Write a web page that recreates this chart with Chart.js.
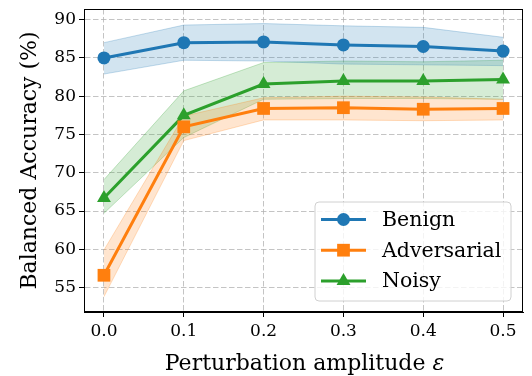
<!DOCTYPE html>
<html>
<head>
<meta charset="utf-8">
<script src="https://cdn.jsdelivr.net/npm/chart.js@4.4.1/dist/chart.umd.min.js"></script>
<style>
html,body{margin:0;padding:0;background:#fff;}
#wrap{width:532px;height:376px;position:relative;}
</style>
</head>
<body>
<div id="wrap"><canvas id="c" width="532" height="376"></canvas></div>
<script>
// ---- data ----
const epsilons = [0.0, 0.1, 0.2, 0.3, 0.4, 0.5];
const xTicks = [0.0, 0.1, 0.2, 0.3, 0.4, 0.5];
const yTicks = [55, 60, 65, 70, 75, 80, 85, 90];

const benignMean  = [85.0, 87.0, 87.1, 86.7, 86.5, 85.9];
const benignUpper = [87.0, 89.3, 89.5, 89.2, 89.0, 87.7];
const benignLower = [82.9, 84.7, 84.6, 84.2, 84.1, 84.0];

const advMean  = [56.6, 76.0, 78.4, 78.5, 78.3, 78.4];
const advUpper = [59.9, 77.4, 79.8, 80.0, 79.9, 79.6];
const advLower = [53.8, 74.2, 76.9, 76.9, 76.8, 76.9];

const noisyMean  = [66.7, 77.5, 81.6, 82.0, 82.0, 82.2];
const noisyUpper = [69.1, 80.7, 84.4, 84.6, 84.5, 84.7];
const noisyLower = [64.7, 74.6, 79.6, 79.7, 79.7, 79.6];

const seriesNames = ['Benign', 'Adversarial', 'Noisy'];
const xTitleMain = 'Perturbation amplitude ';
const xTitleSym = '\u03b5';
const yTitle = 'Balanced Accuracy (%)';

// ---- build ----
const colors = ['#1f77b4', '#ff7f0e', '#2ca02c'];
const bandFill = ['rgba(31,119,180,0.2)', 'rgba(255,127,14,0.2)', 'rgba(44,160,44,0.2)'];
const bandEdge = ['rgba(31,119,180,0.25)', 'rgba(255,127,14,0.25)', 'rgba(44,160,44,0.25)'];
const shapes = ['circle', 'rect', 'triangle'];
const radii = [6.5, 9, 8];
const means = [benignMean, advMean, noisyMean];
const uppers = [benignUpper, advUpper, noisyUpper];
const lowers = [benignLower, advLower, noisyLower];
const pts = arr => arr.map((v, i) => ({x: epsilons[i], y: v}));

const datasets = [];
for (let s = 0; s < 3; s++) {
  datasets.push({label: seriesNames[s] + ' lower', data: pts(lowers[s]), borderColor: bandEdge[s], borderWidth: 1,
    pointRadius: 0, fill: false, order: 10, isBand: true});
  datasets.push({label: seriesNames[s] + ' upper', data: pts(uppers[s]), borderColor: bandEdge[s], borderWidth: 1,
    backgroundColor: bandFill[s], pointRadius: 0, fill: '-1', order: 10, isBand: true});
}
for (let s = 0; s < 3; s++) {
  datasets.push({label: seriesNames[s], data: pts(means[s]), borderColor: colors[s], backgroundColor: colors[s],
    borderWidth: 3, pointStyle: shapes[s], pointRadius: radii[s], pointHoverRadius: radii[s],
    pointBorderWidth: 0, fill: false, order: 1});
}

const SERIF = "'DejaVu Serif', serif";

const framePlugin = {
  id: 'frame',
  afterDraw(chart) {
    const {ctx, chartArea: a} = chart;
    ctx.save();
    ctx.strokeStyle = '#000';
    ctx.lineWidth = 1;
    ctx.strokeRect(a.left + 0.5, a.top + 0.5, a.right - a.left - 1, a.bottom - a.top - 1);
    // x-axis title (with italic epsilon, like matplotlib mathtext)
    ctx.fillStyle = '#000';
    ctx.textBaseline = 'alphabetic';
    ctx.textAlign = 'left';
    const f1 = "22px " + SERIF, f2 = "italic 22px " + SERIF;
    ctx.font = f1; const w1 = ctx.measureText(xTitleMain).width;
    ctx.font = f2; const w2 = ctx.measureText(xTitleSym).width;
    const cx = (a.left + a.right) / 2 + 1;
    const x0 = cx - (w1 + w2) / 2;
    ctx.font = f1; ctx.fillText(xTitleMain, x0, 369.5);
    ctx.font = f2; ctx.fillText(xTitleSym, x0 + w1, 369.5);
    ctx.restore();
  }
};

const legendPlugin = {
  id: 'mplLegend',
  afterDraw(chart) {
    const ctx = chart.ctx;
    const a = chart.chartArea;
    const bx = a.right - 208, by = a.bottom - 110, bw = 196, bh = 99;
    ctx.save();
    ctx.beginPath();
    const r = 4;
    ctx.moveTo(bx + r, by);
    ctx.arcTo(bx + bw, by, bx + bw, by + bh, r);
    ctx.arcTo(bx + bw, by + bh, bx, by + bh, r);
    ctx.arcTo(bx, by + bh, bx, by, r);
    ctx.arcTo(bx, by, bx + bw, by, r);
    ctx.closePath();
    ctx.fillStyle = 'rgba(255,255,255,0.8)';
    ctx.fill();
    ctx.strokeStyle = '#d0d0d0';
    ctx.lineWidth = 1;
    ctx.stroke();
    const mainSets = chart.data.datasets.filter(d => !d.isBand);
    mainSets.forEach((d, i) => {
      const cy = by + 17.5 + i * 30.7;
      ctx.strokeStyle = d.borderColor;
      ctx.lineWidth = 3;
      ctx.beginPath();
      ctx.moveTo(bx + 6, cy);
      ctx.lineTo(bx + 51, cy);
      ctx.stroke();
      ctx.fillStyle = d.backgroundColor;
      Chart.helpers.drawPoint(ctx, {pointStyle: d.pointStyle, radius: d.pointRadius, borderWidth: 0}, bx + 28.5, cy);
      ctx.fillStyle = '#000';
      ctx.font = "20.5px " + SERIF;
      ctx.textBaseline = 'middle';
      ctx.textAlign = 'left';
      ctx.fillText(d.label, bx + 67, cy + 1);
    });
    ctx.restore();
  }
};

new Chart(document.getElementById('c'), {
  type: 'line',
  data: {datasets},
  plugins: [framePlugin, legendPlugin],
  options: {
    responsive: false,
    animation: false,
    layout: {padding: {left: 0, right: 7, top: 5, bottom: 0}},
    plugins: {legend: {display: false}, tooltip: {enabled: false}},
    elements: {line: {tension: 0}},
    scales: {
      x: {
        type: 'linear', min: -0.025, max: 0.525,
        afterBuildTicks: sc => { sc.ticks = xTicks.map(v => ({value: v})); },
        afterFit: sc => { sc.height = 64; sc.paddingLeft = 0; sc.paddingRight = 0; },
        ticks: {font: {family: SERIF, size: 17}, color: '#000', padding: 4,
          callback: v => v.toFixed(1), maxRotation: 0, autoSkip: false},
        grid: {color: 'rgba(176,176,176,0.75)', lineWidth: 1, tickColor: '#000', tickLength: 5, drawTicks: true},
        border: {display: true, color: '#000', dash: [5.5, 2.5]},
        title: {display: false}
      },
      y: {
        min: 51.8, max: 91.4,
        afterBuildTicks: sc => { sc.ticks = yTicks.map(v => ({value: v})); },
        afterFit: sc => { sc.width = 84; sc.paddingTop = 0; sc.paddingBottom = 0; },
        ticks: {font: {family: SERIF, size: 17}, color: '#000', padding: 3, callback: v => String(v)},
        grid: {color: 'rgba(176,176,176,0.75)', lineWidth: 1, tickColor: '#000', tickLength: 5, drawTicks: true},
        border: {display: true, color: '#000', dash: [5.5, 2.5]},
        title: {display: true, text: yTitle, font: {family: SERIF, size: 22}, color: '#000', padding: {top: 17, bottom: 0}}
      }
    }
  }
});
</script>
</body>
</html>
